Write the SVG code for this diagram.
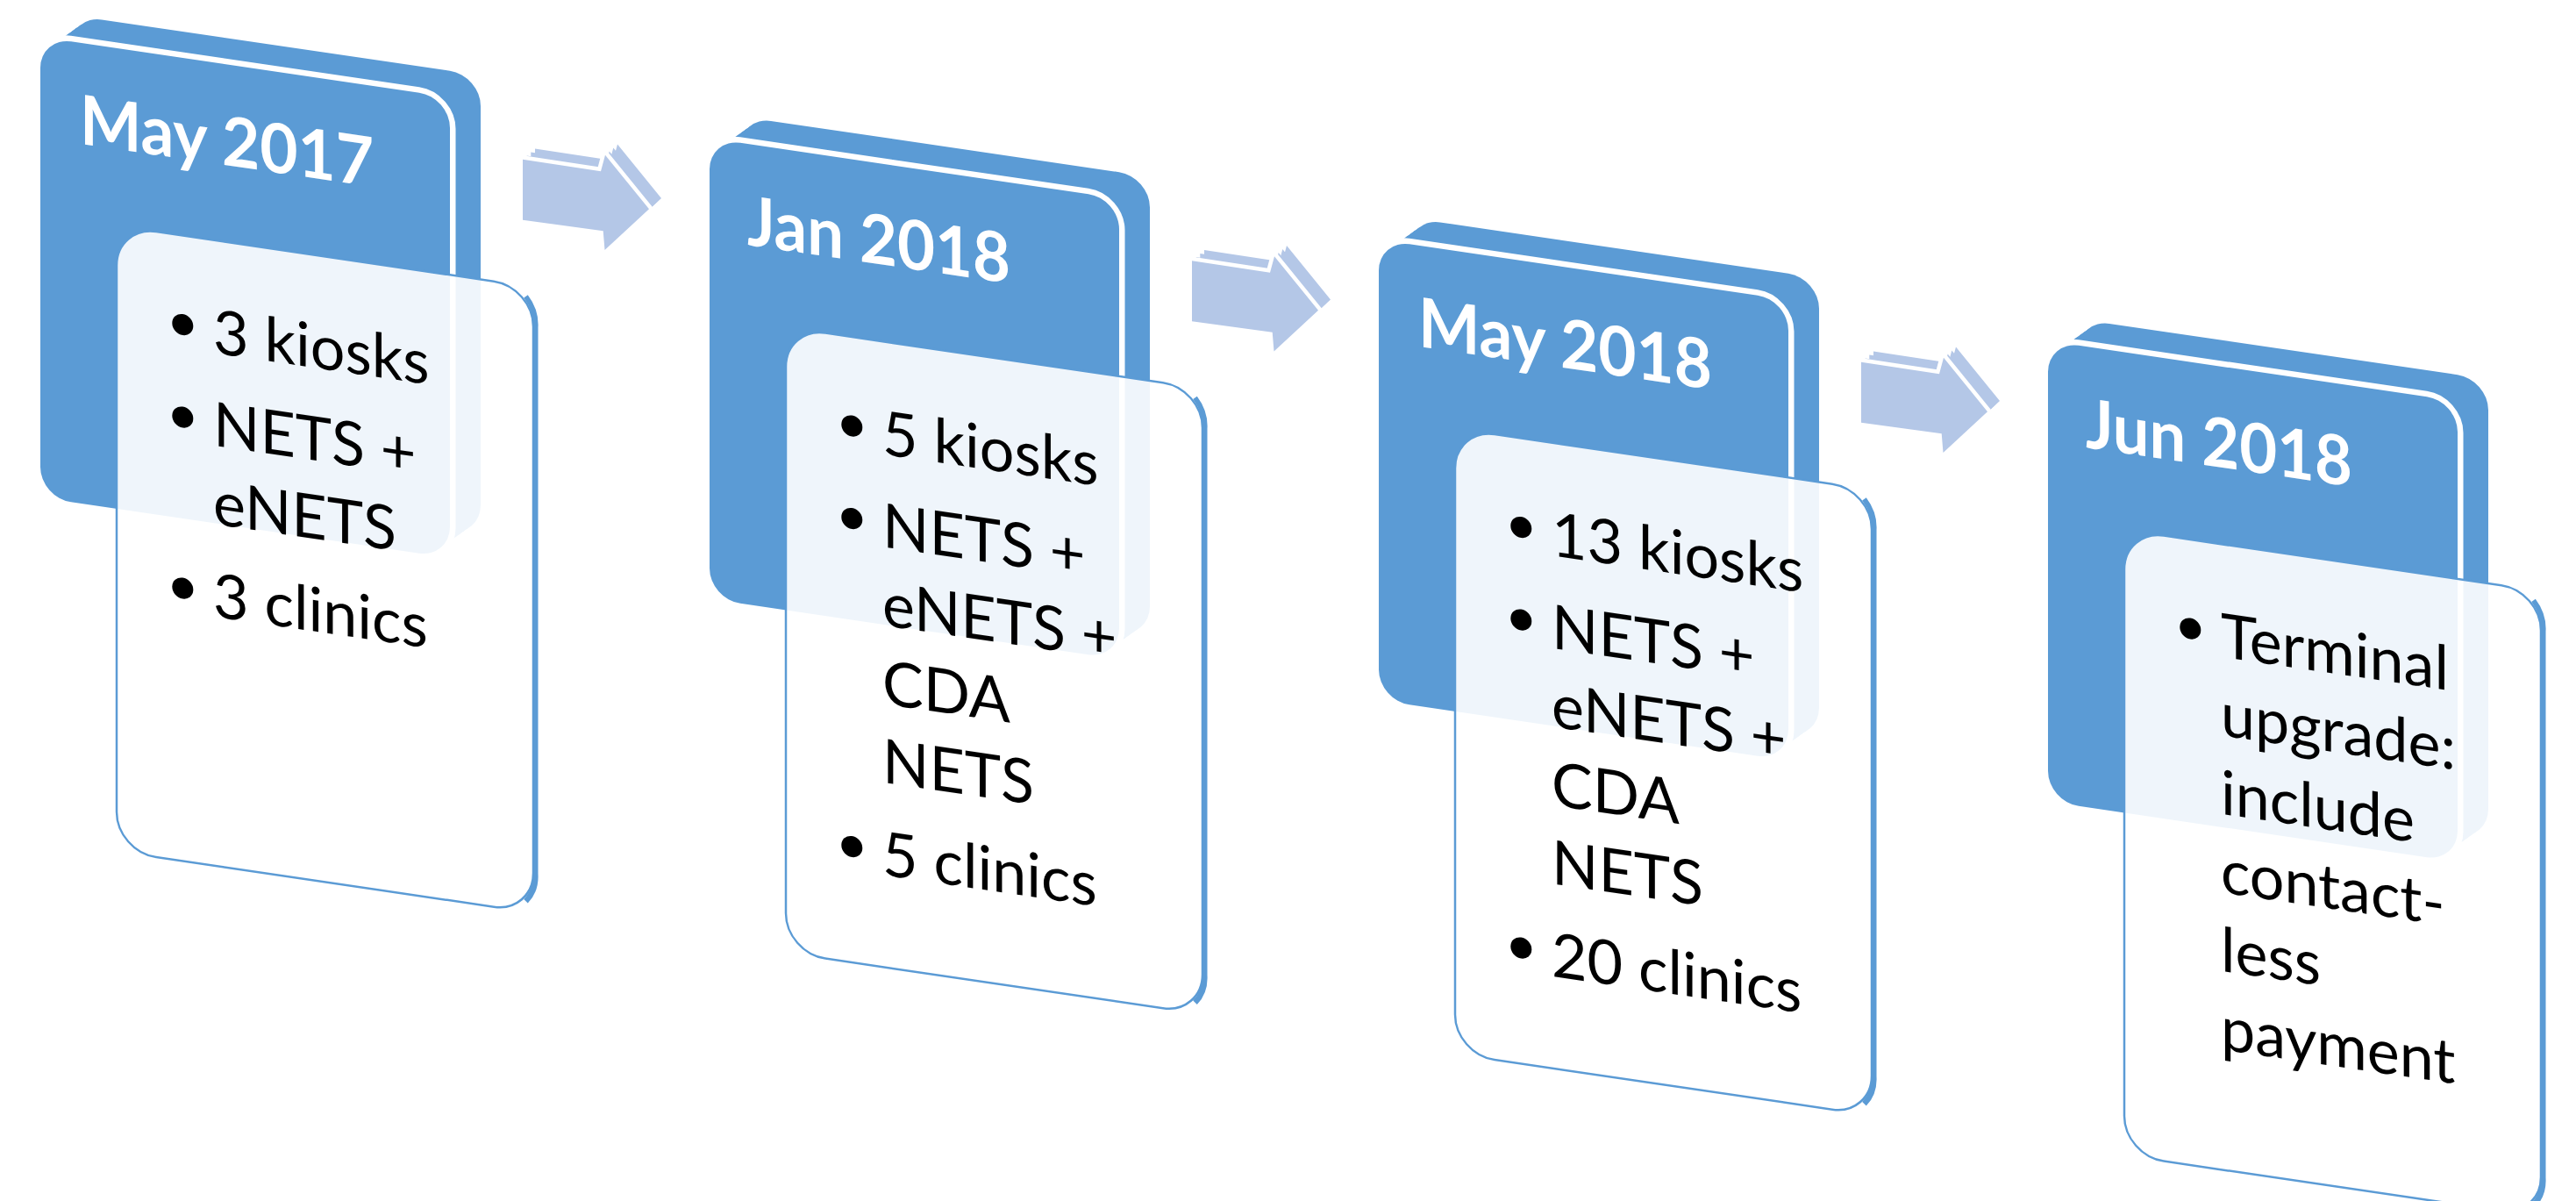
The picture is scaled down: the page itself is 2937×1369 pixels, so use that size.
<svg xmlns="http://www.w3.org/2000/svg" xmlns:xlink="http://www.w3.org/1999/xlink" width="2937" height="1369" viewBox="0 0 2937 1369">
  <style>
    .face{fill:#5B9BD5}
    .front{fill:#5B9BD5;stroke:#FFFFFF;stroke-width:13;paint-order:stroke}
    .panel{fill:#FFFFFF;fill-opacity:0.9;stroke:#5B9BD5;stroke-width:2.5}
    .pedge{fill:none;stroke:#5B9BD5;stroke-width:6}
    .hdr{font-family:Lato,'Open Sans','Liberation Sans',sans-serif;font-weight:700;font-size:78px;fill:#FFFFFF}
    .txt{font-family:Lato,'Open Sans','Liberation Sans',sans-serif;font-size:70px;fill:#000000}
    .dot{fill:#000000}
    .arr{fill:#B4C7E7}
    .arrf{fill:#B4C7E7;stroke:#FFFFFF;stroke-width:9;paint-order:stroke}
  </style>
  <defs>
    <!-- card face in the card's own (sheared) plane -->
    <rect id="face" x="0" y="0" width="467" height="525" rx="35" ry="35"/>
    <!-- thickness of the card: the face swept back up-right -->
    <g id="slab">
      <use xlink:href="#face" x="4.4" y="-3.8"/>
      <use xlink:href="#face" x="8.8" y="-7.5"/>
      <use xlink:href="#face" x="13.1" y="-11.3"/>
      <use xlink:href="#face" x="17.5" y="-15.1"/>
      <use xlink:href="#face" x="21.9" y="-18.8"/>
      <use xlink:href="#face" x="26.3" y="-22.6"/>
      <use xlink:href="#face" x="30.6" y="-26.3"/>
      <use xlink:href="#face" x="35" y="-30.1"/>
    </g>
    <!-- text panel laid over the lower part of each card -->
    <rect id="pnl" x="87" y="202.5" width="475" height="713" rx="45" ry="45"/>
    <path id="pside" d="M 553.5 214.3 A 47 47 0 0 1 564.5 247.5 L 564.5 870.5 A 47 47 0 0 1 553.5 903.7"/>
    <!-- block arrow between cards -->
    <polygon id="arw" points="596,181.7 685,195.3 690,176.7 740,238.3 689.5,285 687.7,263.3 596,250.7"/>
    <g id="arwDepth">
      <use xlink:href="#arw" x="4.7" y="-4.1"/>
      <use xlink:href="#arw" x="9.3" y="-8.2"/>
      <use xlink:href="#arw" x="14" y="-12.3"/>
    </g>
  </defs>

  <rect x="0" y="0" width="2937" height="1369" fill="#FFFFFF"/>

  <!-- connectors -->
  <g id="connectors">
    <g id="arrow1">
      <use xlink:href="#arwDepth" class="arr"/>
      <use xlink:href="#arw" class="arrf"/>
    </g>
    <g id="arrow2" transform="translate(763,115.5)">
      <use xlink:href="#arwDepth" class="arr"/>
      <use xlink:href="#arw" class="arrf"/>
    </g>
    <g id="arrow3" transform="translate(1526,231)">
      <use xlink:href="#arwDepth" class="arr"/>
      <use xlink:href="#arw" class="arrf"/>
    </g>
  </g>

  <!-- May 2017 -->
  <g id="card1" transform="matrix(1,0.147,0,1,46,42.2)">
    <use xlink:href="#slab" class="face"/>
    <use xlink:href="#face" class="front"/>
    <text class="hdr" x="45" y="115" textLength="335" lengthAdjust="spacingAndGlyphs">May 2017</text>
    <use xlink:href="#pnl" class="panel"/>
    <use xlink:href="#pside" class="pedge"/>
    <circle class="dot" cx="162.3" cy="304" r="12"/>
    <text class="txt" x="197" y="331">3 kiosks</text>
    <circle class="dot" cx="162.3" cy="409.5" r="12"/>
    <text class="txt" x="197" y="436.5">NETS +</text>
    <text class="txt" x="197" y="526">eNETS</text>
    <circle class="dot" cx="162.3" cy="604.5" r="12"/>
    <text class="txt" x="197" y="631.5">3 clinics</text>
  </g>

  <!-- Jan 2018 -->
  <g id="card2" transform="matrix(1,0.147,0,1,809,157.7)">
    <use xlink:href="#slab" class="face"/>
    <use xlink:href="#face" class="front"/>
    <text class="hdr" x="43" y="115" textLength="300" lengthAdjust="spacingAndGlyphs">Jan 2018</text>
    <use xlink:href="#pnl" class="panel"/>
    <use xlink:href="#pside" class="pedge"/>
    <circle class="dot" cx="162.3" cy="304" r="12"/>
    <text class="txt" x="197" y="331">5 kiosks</text>
    <circle class="dot" cx="162.3" cy="409.5" r="12"/>
    <text class="txt" x="197" y="436.5">NETS +</text>
    <text class="txt" x="197" y="526">eNETS +</text>
    <text class="txt" x="197" y="615.5">CDA</text>
    <text class="txt" x="197" y="705">NETS</text>
    <circle class="dot" cx="162.3" cy="783.5" r="12"/>
    <text class="txt" x="197" y="810.5">5 clinics</text>
  </g>

  <!-- May 2018 -->
  <g id="card3" transform="matrix(1,0.147,0,1,1572,273.2)">
    <use xlink:href="#slab" class="face"/>
    <use xlink:href="#face" class="front"/>
    <text class="hdr" x="45" y="115" textLength="335" lengthAdjust="spacingAndGlyphs">May 2018</text>
    <use xlink:href="#pnl" class="panel"/>
    <use xlink:href="#pside" class="pedge"/>
    <circle class="dot" cx="162.3" cy="304" r="12"/>
    <text class="txt" x="197" y="331">13 kiosks</text>
    <circle class="dot" cx="162.3" cy="409.5" r="12"/>
    <text class="txt" x="197" y="436.5">NETS +</text>
    <text class="txt" x="197" y="526">eNETS +</text>
    <text class="txt" x="197" y="615.5">CDA</text>
    <text class="txt" x="197" y="705">NETS</text>
    <circle class="dot" cx="162.3" cy="783.5" r="12"/>
    <text class="txt" x="197" y="810.5">20 clinics</text>
  </g>

  <!-- Jun 2018 -->
  <g id="card4" transform="matrix(1,0.147,0,1,2335,388.7)">
    <use xlink:href="#slab" class="face"/>
    <use xlink:href="#face" class="front"/>
    <text class="hdr" x="43" y="115" textLength="304" lengthAdjust="spacingAndGlyphs">Jun 2018</text>
    <use xlink:href="#pnl" class="panel"/>
    <use xlink:href="#pside" class="pedge"/>
    <circle class="dot" cx="162.3" cy="304" r="12"/>
    <text class="txt" x="197" y="331">Terminal</text>
    <text class="txt" x="197" y="420.5">upgrade:</text>
    <text class="txt" x="197" y="510">include</text>
    <text class="txt" x="197" y="599.5">contact-</text>
    <text class="txt" x="197" y="689">less</text>
    <text class="txt" x="197" y="778.5">payment</text>
  </g>
</svg>
